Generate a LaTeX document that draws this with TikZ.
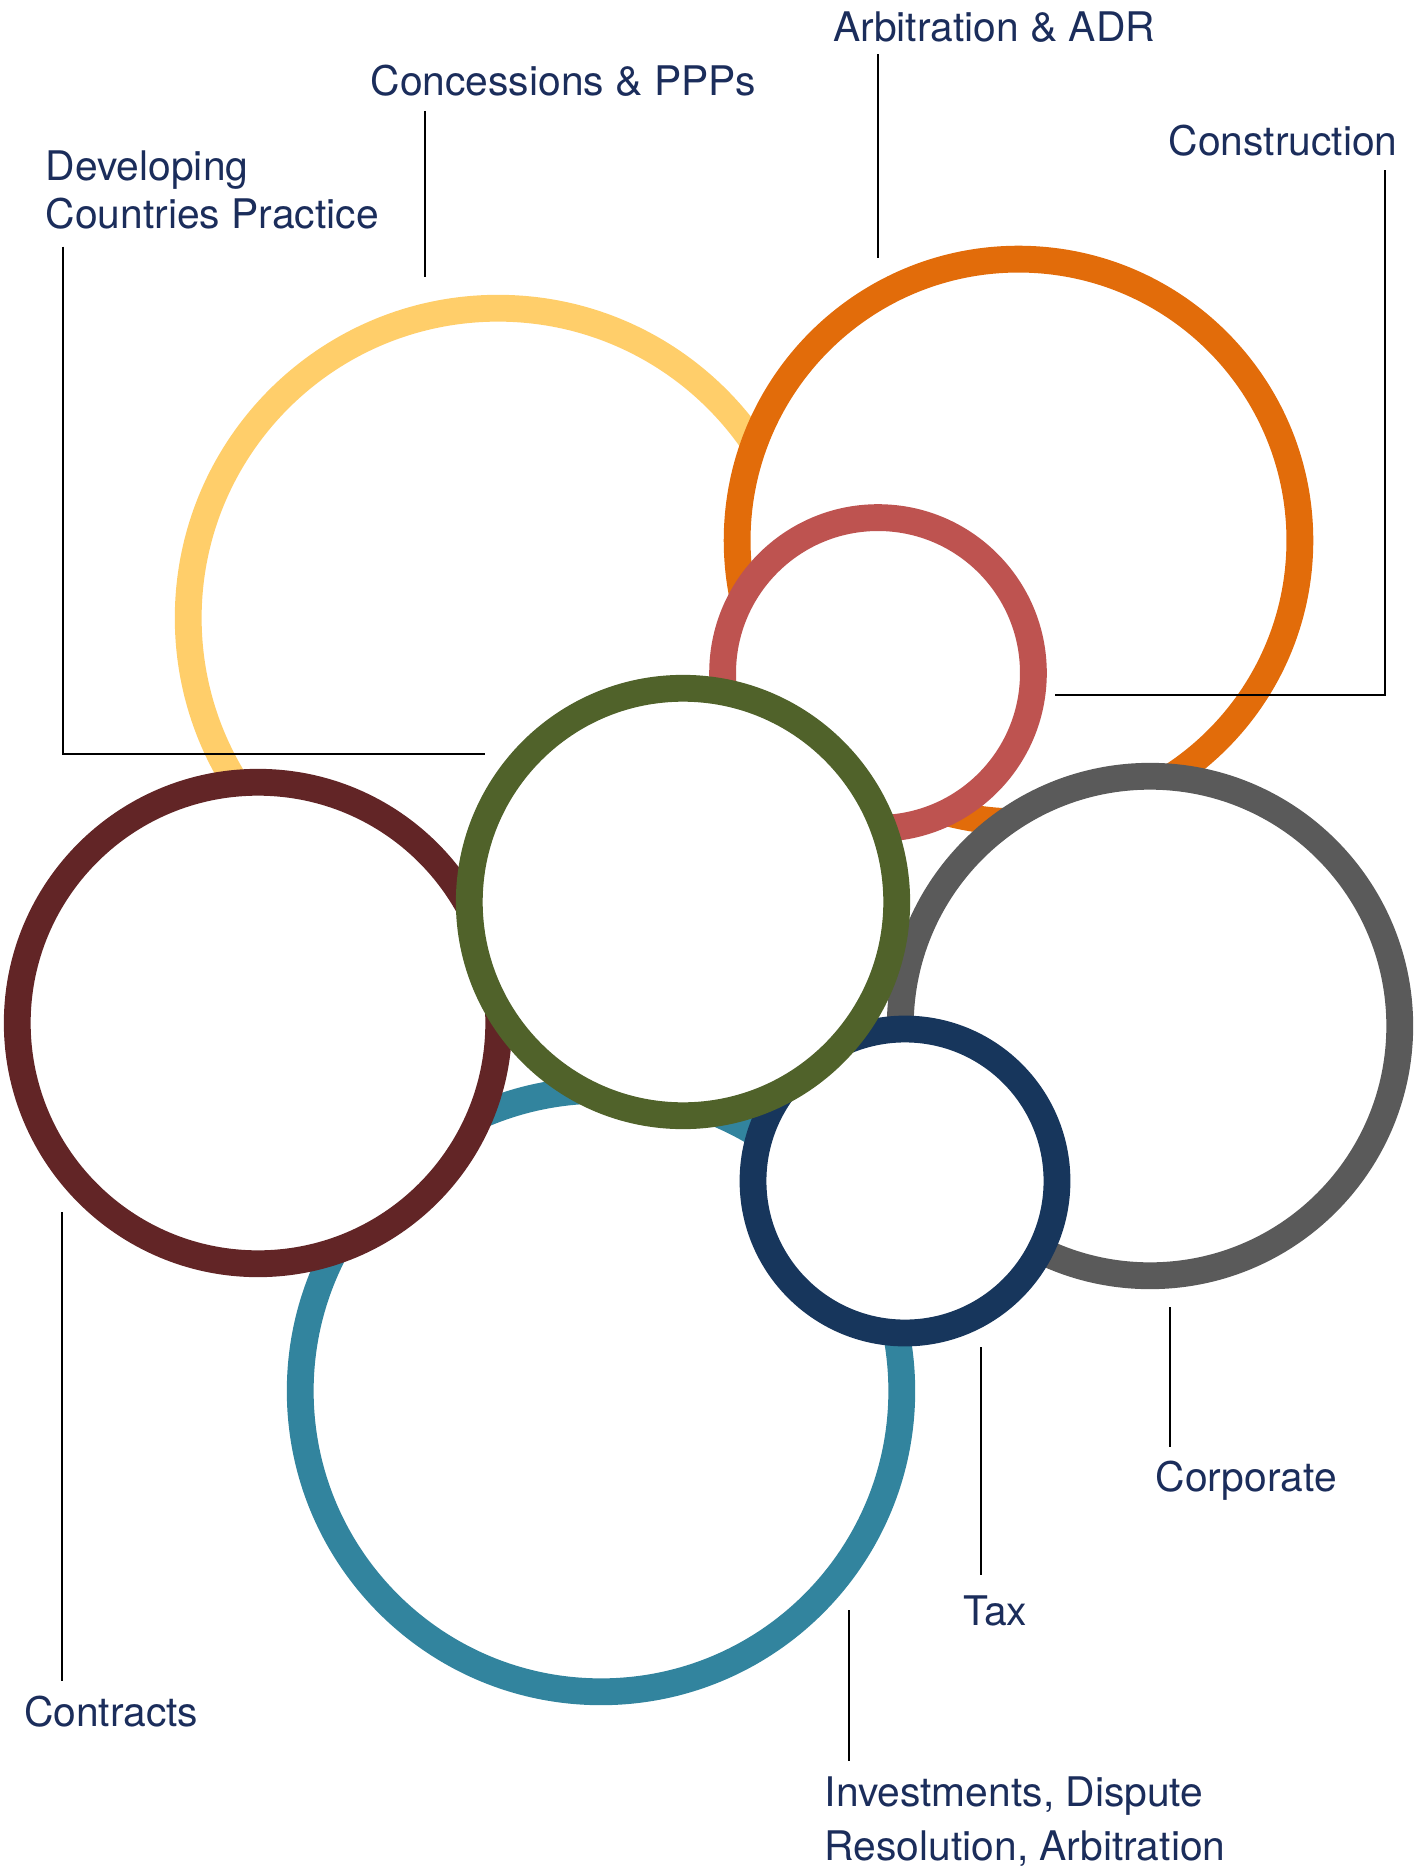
\documentclass[tikz,border=0pt]{standalone}
\usepackage{fontspec}
\setmainfont{TeX Gyre Heros}
\usepackage{xcolor}
\usepackage{tikz}
\usetikzlibrary{arrows}

\definecolor{ringyellow}{RGB}{255,206,106}
\definecolor{ringorange}{RGB}{226,108,10}
\definecolor{ringred}{RGB}{190,83,80}
\definecolor{ringgrey}{RGB}{90,90,90}
\definecolor{ringteal}{RGB}{50,132,158}
\definecolor{ringbrown}{RGB}{98,37,38}
\definecolor{ringnavy}{RGB}{23,54,92}
\definecolor{ringgreen}{RGB}{80,98,42}
\definecolor{tagblue}{RGB}{27,45,91}

\tikzset{
	ring/.style={circle, fill=white, line width=0.268cm, inner sep=0pt},
	tag/.style={anchor=base west, inner sep=0pt, align=left, text=tagblue,
		font=\fontsize{11.6}{13.7}\selectfont},
	leader/.style={draw=black, line width=0.6pt}
}

\begin{document}
\begin{tikzpicture}[x=0.01cm, y=-0.01cm]
		\useasboundingbox (0,0) rectangle (1423,1867);
		% rings
		\node[ring, draw=ringyellow, minimum size=6.192cm] (conc) at (498,618) {};
		\node[ring, draw=ringorange, minimum size=5.624cm] (arb) at (1018.5,540.5) {};
		\node[ring, draw=ringred, minimum size=3.106cm] (cons) at (878,673) {};
		\node[ring, draw=ringgrey, minimum size=4.992cm] (corp) at (1150,1026) {};
		\node[ring, draw=ringteal, minimum size=6.012cm] (inv) at (601,1391) {};
		\node[ring, draw=ringbrown, minimum size=4.812cm] (contr) at (258,1023) {};
		\node[ring, draw=ringnavy, minimum size=3.038cm] (tax) at (905,1181) {};
		\node[ring, draw=ringgreen, minimum size=4.272cm] (dev) at (683,902) {};
		%
		% labels
		\node[tag] (arb') at (832.7,41.7) {Arbitration \& ADR};
		\node[tag] (conc') at (370,96) {Concessions \& PPPs};
		\node[tag] (cons') at (1168,156) {Construction};
		\node[tag] (dev') at (45,228.3) {Developing\\Countries Practice};
		\node[tag] (contr') at (23.3,1726.7) {Contracts};
		\node[tag] (corp') at (1155,1491.7) {Corporate};
		\node[tag] (tax') at (962.7,1625) {Tax};
		\node[tag, font=\fontsize{11.6}{15.1}\selectfont] (inv') at (824,1860) {Investments, Dispute\\Resolution, Arbitration};
		%
		\coordinate (arb1) at (877.7,54.3);
		\coordinate (arb2) at (877.7,258.4);
		\coordinate (conc1) at (425,111);
		\coordinate (conc2) at (425,277.5);
		\coordinate (cons1) at (1384.7,170.3);
		\coordinate (cons2) at (1055,694.6);
		\coordinate (dev1) at (63.3,246.7);
		\coordinate (dev2) at (485.4,753.8);
		\coordinate (contr1) at (62.3,1212);
		\coordinate (contr2) at (62.3,1680.7);
		\coordinate (corp1) at (1170,1307.3);
		\coordinate (corp2) at (1170,1446.7);
		\coordinate (tax1) at (981.3,1347.3);
		\coordinate (tax2) at (981.3,1575.3);
		\coordinate (inv1) at (848.7,1610);
		\coordinate (inv2) at (848.7,1761);
		%
		\path[leader]
		% vertical leaders
		(arb1) edge (arb2)
		(conc1) edge (conc2)
		(contr1) edge (contr2)
		(corp1) edge (corp2)
		(tax1) edge (tax2)
		(inv1) edge (inv2);
		% elbow leaders
		\draw[leader] (cons1) |- (cons2);
		\draw[leader] (dev1) |- (dev2);
	\end{tikzpicture}
\end{document}
